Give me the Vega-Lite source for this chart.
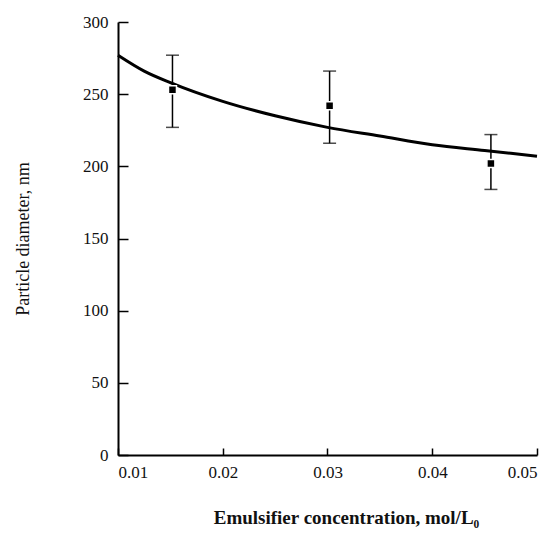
{
  "$schema": "https://vega.github.io/schema/vega-lite/v6.json",
  "width": 419,
  "height": 433,
  "autosize": "none",
  "padding": {"left": 118, "top": 22, "right": 18, "bottom": 87},
  "background": "white",
  "config": {
    "view": {"stroke": null},
    "font": "Liberation Serif",
    "axis": {
      "domainColor": "black",
      "domainWidth": 2,
      "tickColor": "black",
      "tickWidth": 1.5,
      "ticks": true,
      "grid": false,
      "labelFont": "Liberation Serif",
      "titleFont": "Liberation Serif",
      "labelColor": "#111",
      "titleColor": "#111",
      "labelFontSize": 17,
      "titleFontSize": 18,
      "titleFontWeight": "normal"
    }
  },
  "datasets": {
    "points": [
      {"c": 0.0152, "d": 253, "lo": 227, "hi": 277},
      {"c": 0.0302, "d": 242, "lo": 216, "hi": 266},
      {"c": 0.0456, "d": 202, "lo": 184, "hi": 222}
    ],
    "curve": [
      {"c": 0.01, "d": 277},
      {"c": 0.0125, "d": 266},
      {"c": 0.015, "d": 258},
      {"c": 0.02, "d": 245},
      {"c": 0.025, "d": 235},
      {"c": 0.03, "d": 227},
      {"c": 0.035, "d": 221},
      {"c": 0.04, "d": 215},
      {"c": 0.045, "d": 211},
      {"c": 0.05, "d": 207}
    ]
  },
  "layer": [
    {
      "data": {"name": "curve"},
      "mark": {"type": "line", "color": "black", "strokeWidth": 3, "interpolate": "monotone"},
      "encoding": {
        "x": {
          "field": "c", "type": "quantitative",
          "scale": {"domain": [0.01, 0.05], "nice": false, "zero": false},
          "axis": {
            "title": "Emulsifier concentration, mol/L₀",
            "values": [0.01, 0.02, 0.03, 0.04, 0.05],
            "format": ".2f",
            "tickSize": -7,
            "labelPadding": 16,
            "titlePadding": 28,
            "titleFontSize": 19,
            "titleFontWeight": "bold",
            "titleX": 228
          }
        },
        "y": {
          "field": "d", "type": "quantitative",
          "scale": {"domain": [0, 300], "nice": false},
          "axis": {
            "title": "Particle diameter, nm",
            "values": [0, 50, 100, 150, 200, 250, 300],
            "tickSize": -10,
            "labelPadding": 20,
            "titlePadding": 50
          }
        }
      }
    },
    {
      "data": {"name": "points"},
      "mark": {"type": "rule", "color": "black", "strokeWidth": 1.5},
      "encoding": {
        "x": {"field": "c", "type": "quantitative"},
        "y": {"field": "lo", "type": "quantitative"},
        "y2": {"field": "hi"}
      }
    },
    {
      "data": {"name": "points"},
      "mark": {"type": "tick", "orient": "horizontal", "color": "black", "size": 13, "thickness": 1.5},
      "encoding": {
        "x": {"field": "c", "type": "quantitative"},
        "y": {"field": "lo", "type": "quantitative"}
      }
    },
    {
      "data": {"name": "points"},
      "mark": {"type": "tick", "orient": "horizontal", "color": "black", "size": 13, "thickness": 1.5},
      "encoding": {
        "x": {"field": "c", "type": "quantitative"},
        "y": {"field": "hi", "type": "quantitative"}
      }
    },
    {
      "data": {"name": "points"},
      "mark": {"type": "square", "color": "black", "filled": true, "opacity": 1, "size": 64, "stroke": "white", "strokeWidth": 1.5},
      "encoding": {
        "x": {"field": "c", "type": "quantitative"},
        "y": {"field": "d", "type": "quantitative"}
      }
    }
  ]
}
